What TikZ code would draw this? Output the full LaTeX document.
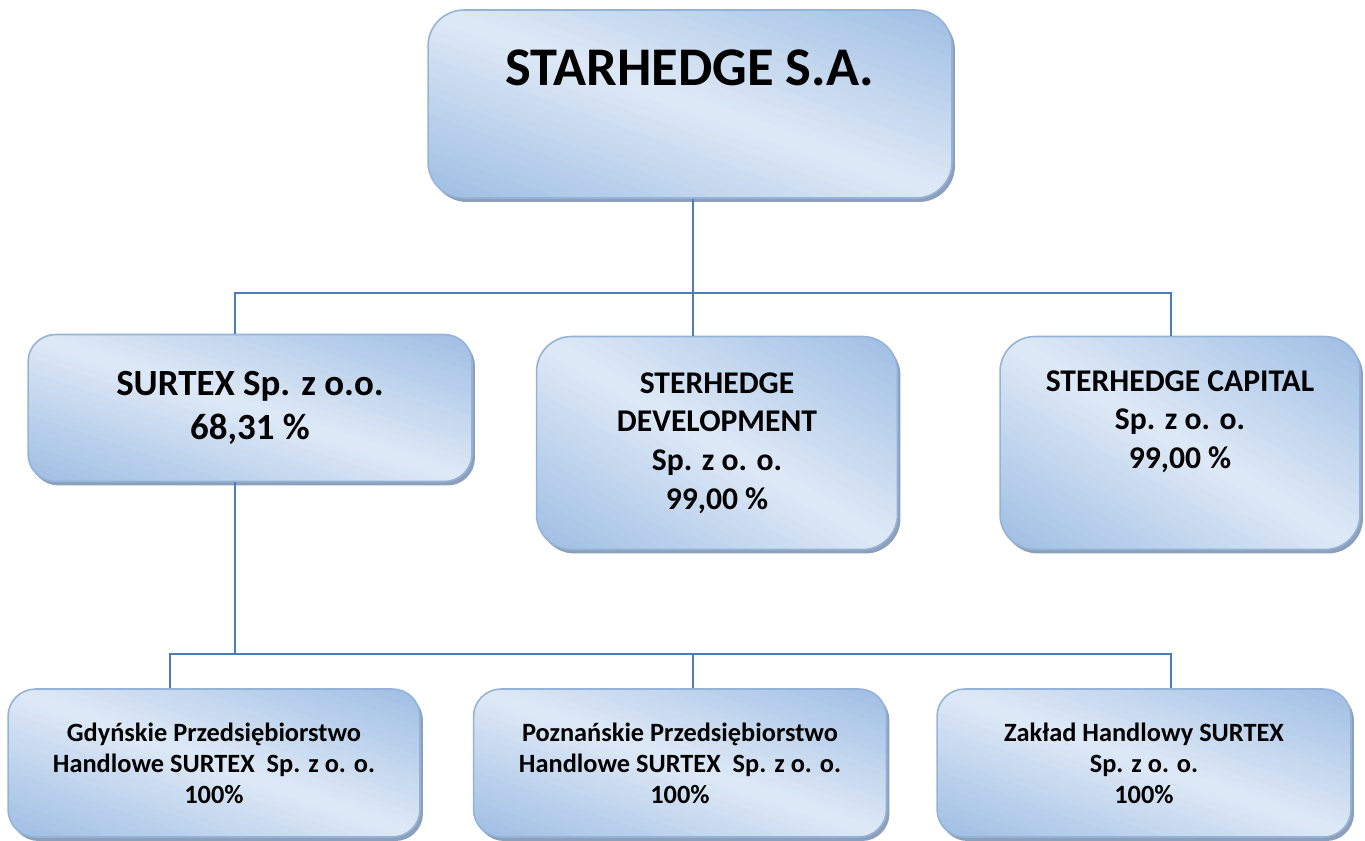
\documentclass[tikz,border=0pt]{standalone}
\usepackage{fontspec}
\setmainfont{Carlito}
\usepackage{xcolor}
\usepackage{tikz}
\usetikzlibrary{shadows,calc}
\definecolor{bdark}{RGB}{158,190,228}
\definecolor{blight}{RGB}{222,233,246}
\definecolor{bedge}{RGB}{149,179,215}
\definecolor{shadowc}{RGB}{140,160,186}
\definecolor{linkc}{RGB}{74,126,187}
\tikzset{
  boxfill/.style={path picture={
    \path (path picture bounding box.south west) coordinate (bsw)
          (path picture bounding box.north east) coordinate (bne);
    \foreach \s in {0,0.05,...,1.96}{
      \pgfmathsetmacro\pct{100*abs(\s+0.025-1)}
      \fill[bdark!\pct!blight,sharp corners] let \p1=(bsw),\p2=(bne) in
        ({\x1+(\s+1)*(\x2-\x1)},{\y1-(\y2-\y1)})
        -- ({\x1+(\s+1.07)*(\x2-\x1)},{\y1-(\y2-\y1)})
        -- ({\x1-(\x2-\x1)},{\y1+(\s+1.07)*(\y2-\y1)})
        -- ({\x1-(\x2-\x1)},{\y1+(\s+1)*(\y2-\y1)}) -- cycle;
    }}},
  orgbox/.style={draw=bedge,line width=0.9pt,rounded corners=0.55cm,boxfill,
    drop shadow={shadow xshift=0.06cm,shadow yshift=-0.08cm,fill=shadowc,opacity=1},
    align=center,font=\bfseries,inner sep=0pt},
  link/.style={draw=linkc,line width=0.9pt}
}
\begin{document}
\begin{tikzpicture}[x=0.02cm,y=-0.02cm]
\useasboundingbox (0,0) rectangle (1365,841);
\node[orgbox,rounded corners=0.72cm,minimum width=10.48cm,minimum height=3.76cm,
  font=\bfseries\fontsize{31}{36}\selectfont,text height=20pt,text depth=41pt]
  (top) at (690,104) {STARHEDGE S.A.};
\node[orgbox,minimum width=8.88cm,minimum height=2.94cm,
  font=\bfseries\fontsize{21}{25}\selectfont] (surtex) at (250,408) {SURTEX Sp. z o.o.\\68,31 \%};
\node[orgbox,rounded corners=0.7cm,minimum width=7.22cm,minimum height=4.26cm,
  font=\bfseries\fontsize{18}{22}\selectfont] (devel) at (717,443)
  {STERHEDGE\\DEVELOPMENT\\Sp. z o. o.\\99,00 \%};
\node[orgbox,rounded corners=0.7cm,minimum width=7.2cm,minimum height=4.26cm,
  font=\bfseries\fontsize{18}{22}\selectfont,text depth=27pt] (capital) at (1180,443)
  {STERHEDGE CAPITAL\\Sp. z o. o.\\99,00 \%};
\node[orgbox,minimum width=8.24cm,minimum height=2.96cm,
  font=\bfseries\fontsize{15}{17.6}\selectfont] (gdynia) at (214,763)
  {Gdyńskie Przedsiębiorstwo\\Handlowe SURTEX~ Sp. z o. o.\\100\%};
\node[orgbox,minimum width=8.26cm,minimum height=2.96cm,
  font=\bfseries\fontsize{15}{17.6}\selectfont] (poznan) at (680,763)
  {Poznańskie Przedsiębiorstwo\\Handlowe SURTEX~ Sp. z o. o.\\100\%};
\node[orgbox,minimum width=8.28cm,minimum height=2.96cm,
  font=\bfseries\fontsize{15}{17.6}\selectfont] (zaklad) at (1144,763)
  {Zakład Handlowy SURTEX\\Sp. z o. o.\\100\%};
% junctions of the lines
\coordinate (j0) at (693,293);
\coordinate (jl) at (235,293);
\coordinate (jr) at (1171,293);
\coordinate (k0) at (693,654);
\coordinate (kl) at (170,654);
\coordinate (kr) at (1171,654);
\draw[link] (top.south -| j0) -- (j0);
\draw[link] (surtex.north -| jl) -- (jl) -- (jr) -- (capital.north -| jr);
\draw[link] (j0) -- (devel.north -| j0);
\draw[link] (surtex.south -| jl) -- (jl |- k0);
\draw[link] (gdynia.north -| kl) -- (kl) -- (kr) -- (zaklad.north -| kr);
\draw[link] (k0) -- (poznan.north -| k0);
\end{tikzpicture}
\end{document}
